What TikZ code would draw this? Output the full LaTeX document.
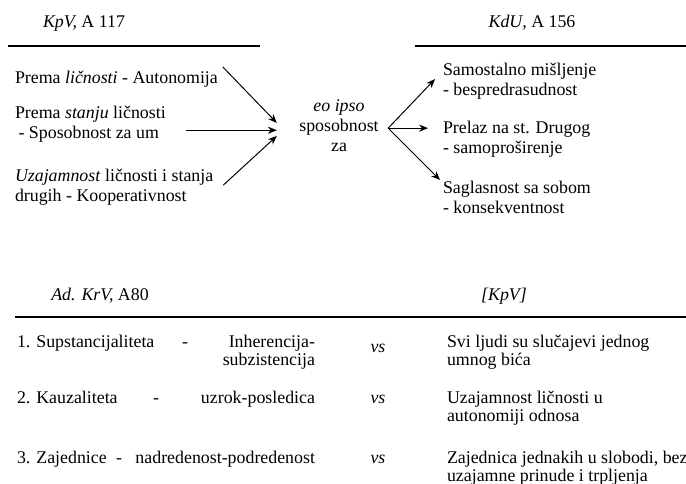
\documentclass[tikz,border=0pt]{standalone}
\usepackage{fontspec}
\setmainfont{Liberation Serif}
\usetikzlibrary{arrows.meta}

\begin{document}
\begin{tikzpicture}[
 x=0.56pt,y=-0.56pt,
 every node/.style={inner sep=0pt,outer sep=0pt},
 head/.style={anchor=base,font=\fontsize{10}{12}\selectfont},
 item/.style={anchor=north west,align=left,font=\fontsize{10}{11.2}\selectfont},
 core/.style={anchor=north,align=center,font=\fontsize{10}{11}\selectfont},
 cell/.style={font=\fontsize{10}{10.1}\selectfont},
 note/.style={anchor=north west,align=left,font=\fontsize{10}{10.1}\selectfont},
 rule/.style={line width=0.7pt},
 edge/.style={-{Stealth[length=5pt,width=4pt]},line width=0.55pt}
]
\useasboundingbox (0,0) rectangle (686,483);
% upper half
\node[head] (kpv) at (84,27) {\textit{KpV,} A 117};
\node[head] (kdu) at (532,27) {\textit{KdU,} A 156};
\draw[rule] (8,46) -- (260,46);
\draw[rule] (415,46) -- (686,46);
\node[item] (p1) at (15,71) {Prema \textit{ličnosti} - Autonomija};
\node[item] (p2) at (15,106) {Prema \textit{stanju} ličnosti\\\hspace{2pt}- Sposobnost za um};
\node[item] (p3) at (15,169) {\textit{Uzajamnost} ličnosti i stanja\\drugih - Kooperativnost};
\node[core] (c) at (339,100) {\textit{eo ipso}\\sposobnost\\za};
\node[item] (q1) at (443,63) {Samostalno mišljenje\\- bespredrasudnost};
\node[item] (q2) at (443,121) {Prelaz na st. Drugog\\- samoproširenje};
\node[item] (q3) at (443,181) {Saglasnost sa sobom\\- konsekventnost};
\coordinate (cin) at ([shift={(-22.5,0)}]c.west);
\coordinate (out) at ([shift={(9.5,2.5)}]c.east);
\coordinate (q2in) at ([shift={(-15,0)}]q2.west);
\draw[edge] ([shift={(5,-4)}]p1.north east) -- ([shift={(0,-2.7)}]cin);
\draw[edge] ([shift={(20,-12)}]p2.south east) coordinate (s2) -- (cin |- s2);
\draw[edge] ([shift={(10,-2)}]p3.east) -- ([shift={(0,10.3)}]cin);
\draw[edge] (out) -- ([shift={(-8,-2)}]q1.west);
\draw[edge] (out) -- (out -| q2in);
\draw[edge] (out) -- ([shift={(-3,-1)}]q3.north west);
% lower half
\node[head] (adk) at (100,300) {\textit{Ad. KrV,} A80};
\node[head] (kpv2) at (504,300) {\textit{[KpV]}};
\draw[rule] (15,317) -- (686,317);
\node[cell,anchor=base west] (r1) at (17,347) {1. Supstancijaliteta};
\node[cell,anchor=base] (d1) at (185,347) {-};
\node[note,anchor=north east,align=right] (e1) at (315,335) {Inherencija-\\subzistencija};
\node[cell,anchor=base] (v1) at (378,352) {\textit{vs}};
\node[cell,anchor=base west] (r2) at (17,403) {2. Kauzaliteta};
\node[cell,anchor=base] (d2) at (156,403) {-};
\node[cell,anchor=base east] (e2) at (315,403) {uzrok-posledica};
\node[cell,anchor=base] (v2) at (378,403) {\textit{vs}};
\node[cell,anchor=base west] (r3) at (17,463) {3. Zajednice};
\node[cell,anchor=base] (d3) at (119,463) {-};
\node[cell,anchor=base east] (e3) at (315,463) {nadredenost-podredenost};
\node[cell,anchor=base] (v3) at (378,463) {\textit{vs}};
\node[note] (w1) at (447,335) {Svi ljudi su slučajevi jednog\\umnog bića};
\node[note] (w2) at (447,391) {Uzajamnost ličnosti u\\autonomiji odnosa};
\node[note] (w3) at (447,451) {Zajednica jednakih u slobodi, bez\\uzajamne prinude i trpljenja};
\end{tikzpicture}
\end{document}
